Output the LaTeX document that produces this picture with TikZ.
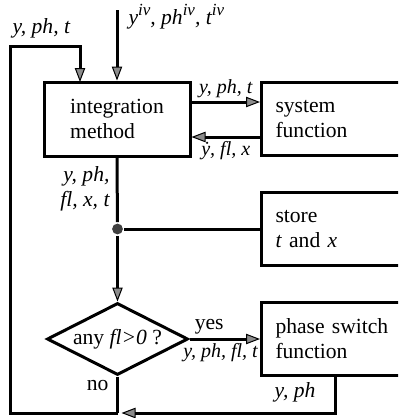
\documentclass[tikz,border=0pt]{standalone}
\usepackage{fontspec}
\setmainfont{Liberation Serif}
\usetikzlibrary{arrows.meta, shapes.geometric}
\newcommand{\ivsup}{\raisebox{0.9ex}{\fontsize{8.5}{10}\selectfont iv}}
\tikzset{
  flowfig/.style={
    x=0.5pt, y=-0.5pt, line width=1.5pt,
    every node/.append style={font=\fontsize{10.8}{12.5}\selectfont},
    >={Triangle[length=7pt,width=5.2pt,fill=black!45,line width=0.5pt]},
  },
  stepbox/.style={draw, rectangle, minimum width=73pt, minimum height=37pt,
    align=left, inner sep=0pt},
  % rechte Kante der Kaesten liegt ausserhalb des Bildes
  fnbox/.style={draw, rectangle, anchor=west, minimum height=36.5pt,
    text width=58.5pt, inner xsep=7pt, inner ysep=0pt, align=left},
  decision/.style={draw, diamond, aspect=2, minimum width=70.5pt,
    minimum height=36pt, inner sep=0pt},
  lbl/.style={font=\fontsize{10.8}{12.5}\selectfont\itshape, inner sep=1.5pt},
  arrlbl/.style={lbl, font=\fontsize{10}{11.5}\selectfont\itshape},
  joint/.style={circle, fill=black!75, minimum size=5.4pt, inner sep=0pt},
}
\begin{document}
\begin{tikzpicture}[flowfig]
  \clip (0,0) rectangle (398,418);
  \node[stepbox] (IntegMethod) at (117,119) {integration\\method};
  \node[fnbox] (SysFunction) at (260,119) {system\\function};
  \node[fnbox] (StoreTX) at (260,229) {store\\\textit{t} and \textit{x}};
  \node[fnbox] (PhaseSwitch) at (260,339) {phase switch\\function};
  \node[decision] (AnyFl) at (117.5,339) {any \textit{fl>0} ?};
  \node[joint] (Branch) at (117.5,229) {};
  \coordinate (IvIn) at (117,10);
  \coordinate (Merge) at (117.5,413);
  \coordinate (LoopCorner) at (10,46);
  \coordinate (LoopIn) at (80,82);
  \coordinate (SwitchDrop) at (335,413);
  \node[lbl, anchor=base west] (LoopLabel) at (8,33) {y, ph, t};
  \node[lbl, anchor=base west] (IvLabel) at (124,24)
    {y\ivsup, ph\ivsup, t\ivsup};
  \draw[->] (IvIn) -- (IntegMethod.north);
  \draw[->] ([yshift=8.5pt]IntegMethod.east) -- node[arrlbl, above] {y, ph, t}
    ([yshift=8.5pt]SysFunction.west);
  \draw[<-] ([yshift=-9pt]IntegMethod.east) -- node[arrlbl, below] {\.{y}, fl, x}
    ([yshift=-9pt]SysFunction.west);
  \node[lbl, anchor=north east, align=right] (OutLabel) at (114,162) {y, ph,\\fl, x, t};
  \draw (IntegMethod.south) -- (Branch);
  \draw (Branch) -- (StoreTX.west);
  \draw[->] (Branch) -- (AnyFl.north);
  \draw[->] (AnyFl.east) -- node[pos=0.28, above, inner sep=1.5pt] {yes}
    node[arrlbl, below, pos=0.44] {y, ph, fl, t} (PhaseSwitch.west);
  \node[anchor=east, inner sep=1.5pt] (NoLabel) at (113,386) {no};
  \draw (AnyFl.south) -- (Merge);
  \draw[->, shorten >=2pt] (PhaseSwitch.south -| SwitchDrop) -- (SwitchDrop) -- (Merge);
  \node[lbl, anchor=base] (BackLabel) at (295,397) {y, ph};
  \draw[->] (Merge) -| (LoopCorner) -| (LoopIn);
\end{tikzpicture}
\end{document}
